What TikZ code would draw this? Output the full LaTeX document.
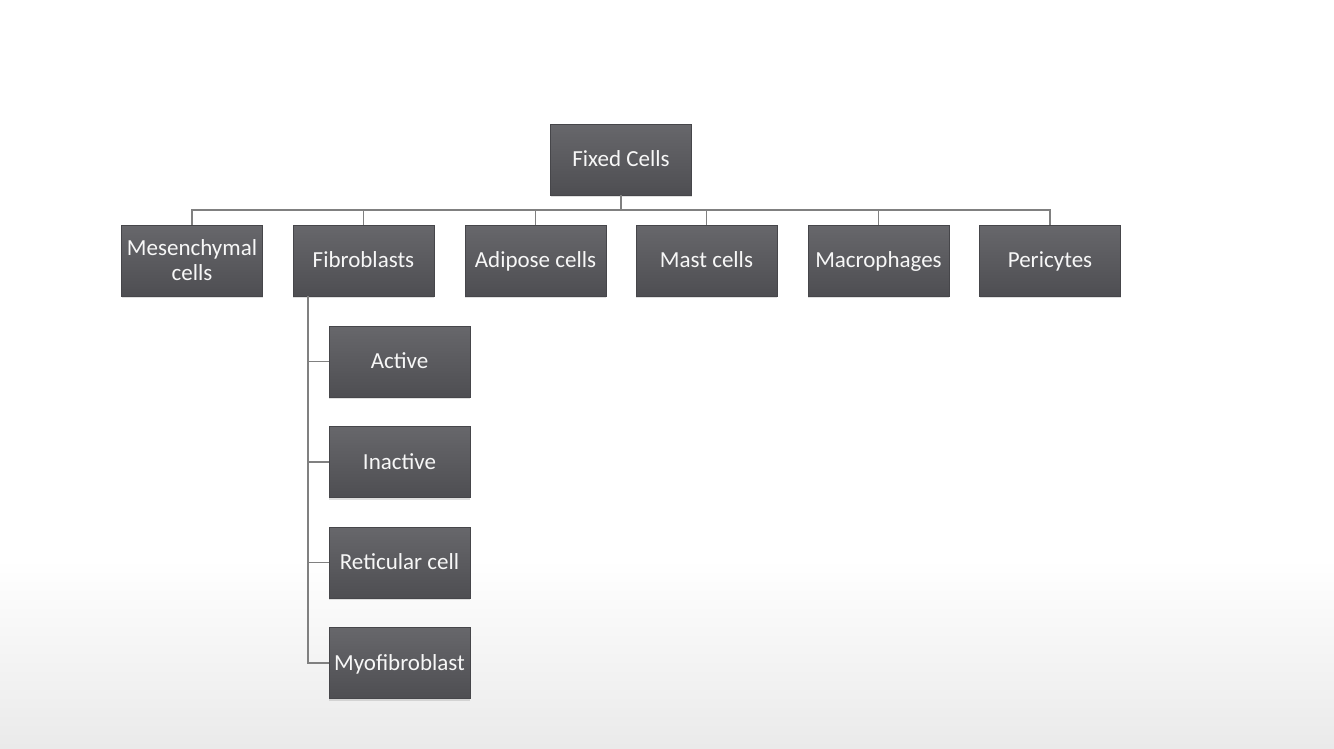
\documentclass[tikz,border=0pt]{standalone}
\usepackage{fontspec}
\setmainfont{Carlito}
\usetikzlibrary{shadows}
\definecolor{boxtop}{HTML}{67676B}
\definecolor{boxbot}{HTML}{4E4E52}
\definecolor{linegray}{HTML}{808080}
\definecolor{bgbot}{HTML}{EAEAEA}
\begin{document}
\begin{tikzpicture}[x=1pt,y=-1pt,
  cellbox/.style={rectangle, minimum width=141pt, minimum height=71pt, inner sep=2pt,
    top color=boxtop, bottom color=boxbot, draw=boxbot!90!black, line width=0.4pt,
    text=white!94!gray, align=center, font=\fontsize{23}{25}\selectfont,
    drop shadow={shadow xshift=0pt, shadow yshift=-2pt, opacity=0.25}},
  oneline/.style={cellbox, text height=16pt, text depth=1.5pt},
  conn/.style={draw=linegray, line width=1.3pt}]
\useasboundingbox (0,0) rectangle (1334,748);
\fill[white] (0,0) rectangle (1334,560);
\shade[top color=white, bottom color=bgbot] (0,559) rectangle (1334,748);
% nodes
\node[oneline] (fixed) at (621,159.5) {Fixed Cells};
\node[cellbox] (mes) at (192,260.5) {Mesenchymal\\cells};
\node[oneline] (fib) at (363.5,260.5) {Fibroblasts};
\node[oneline] (adi) at (535.5,260.5) {Adipose cells};
\node[oneline] (mast) at (706.5,260.5) {Mast cells};
\node[oneline] (mac) at (878.5,260.5) {Macrophages};
\node[oneline] (peri) at (1050,260.5) {Pericytes};
\node[oneline] (act) at (399.5,361.5) {Active};
\node[oneline] (inact) at (399.5,462) {Inactive};
\node[oneline] (ret) at (399.5,562.5) {Reticular cell};
\node[oneline] (myo) at (399.5,663) {Myofibroblast};
\coordinate (bus) at (621,210);
\coordinate (fibx) at (308,296);
% connectors
\draw[conn] (fixed.south) -- (bus);
\foreach \n in {mes,fib,adi,mast,mac,peri}
  \draw[conn] (\n.north) |- (bus);
\foreach \n in {act,inact,ret,myo}
  \draw[conn] (fibx) |- (\n.west);
\end{tikzpicture}
\end{document}
